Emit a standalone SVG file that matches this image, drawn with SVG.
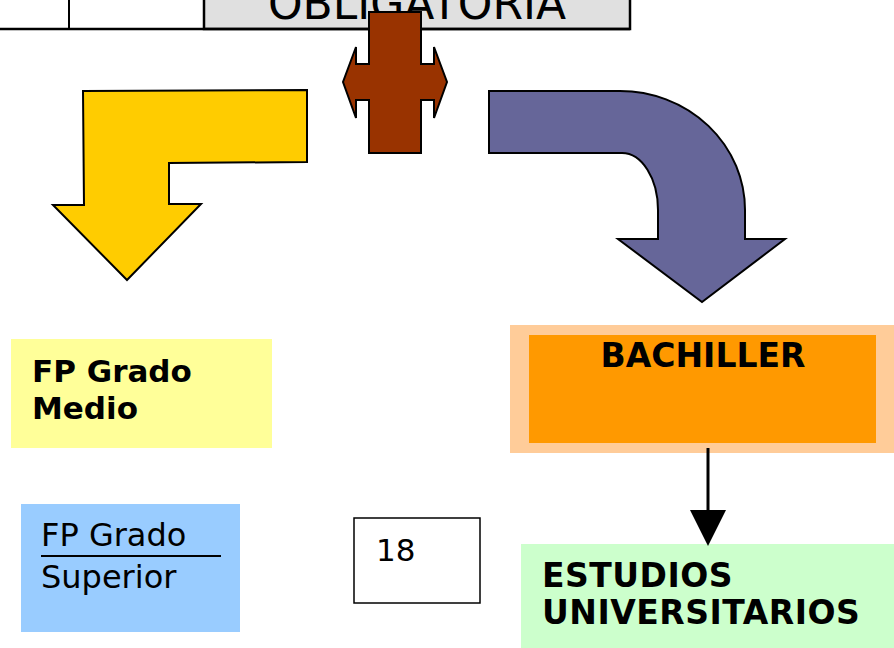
<svg xmlns="http://www.w3.org/2000/svg" width="894" height="648" viewBox="0 0 894 648">
<style>
.t{font-family:"DejaVu Sans","Liberation Sans",sans-serif;fill:#000}
.b{font-weight:bold}
.shape{stroke:#000;stroke-width:2;stroke-linejoin:miter}
</style>
<defs>
<marker id="ah" viewBox="0 0 36 36" refX="0" refY="18" markerWidth="36" markerHeight="36" markerUnits="userSpaceOnUse" orient="auto">
<path d="M0,0 L36,18 L0,36 Z" fill="#000"/>
</marker>
</defs>
<rect width="894" height="648" fill="#fff"/>
<g id="table">
<rect x="204" y="-5" width="426" height="34" fill="#e0e0e0" stroke="#000" stroke-width="2.5"/>
<line x1="0" y1="29" x2="630" y2="29" stroke="#000" stroke-width="2.5"/>
<line x1="69" y1="0" x2="69" y2="29" stroke="#000" stroke-width="2"/>
<line x1="204" y1="0" x2="204" y2="29" stroke="#000" stroke-width="2"/>
<text class="t" x="417" y="19" font-size="44" text-anchor="middle">OBLIGATORIA</text>
</g>
<g id="brown-cross">
<path class="shape" fill="#993300" d="M369,12 L421,12 L421,64 L434,64 L434,47 L447,82 L434,118 L434,100 L421,100 L421,153 L369,153 L369,100 L356,100 L356,118 L343,82 L356,47 L356,64 L369,64 Z"/>
</g>
<g id="yellow-arrow">
<path class="shape" fill="#ffcc00" d="M83,91 L307,90 L307,162 L169,163 L169,204 L201,204 L127,280 L53,205 L84,205 Z"/>
</g>
<g id="purple-arrow">
<path class="shape" fill="#666699" d="M489,91 L620,91 A125,119 0 0 1 745,210 L745,239 L785,239 L702,302 L618,239 L658,239 L658,210 A36,57 0 0 0 622,153 L489,153 Z"/>
</g>
<g id="fp-medio">
<rect x="11" y="339" width="261" height="109" fill="#ffff99"/>
<text class="t b" x="32" y="382" font-size="31">FP Grado</text>
<text class="t b" x="32" y="419" font-size="31">Medio</text>
</g>
<g id="fp-superior">
<rect x="21" y="504" width="219" height="128" fill="#99ccff"/>
<text class="t" x="41" y="546" font-size="32">FP Grado</text>
<line x1="41" y1="556" x2="221" y2="556" stroke="#000" stroke-width="2"/>
<text class="t" x="41" y="588" font-size="32">Superior</text>
</g>
<g id="age-18">
<rect x="354" y="518" width="126" height="85" fill="#fff" stroke="#000" stroke-width="1.5"/>
<text class="t" x="376" y="561" font-size="31">18</text>
</g>
<g id="bachiller">
<rect x="510" y="325" width="384" height="128" fill="#ffcc99"/>
<rect x="529" y="335" width="347" height="108" fill="#ff9900"/>
<text class="t b" x="703" y="367" font-size="33" text-anchor="middle">BACHILLER</text>
</g>
<g id="estudios">
<rect x="521" y="544" width="373" height="104" fill="#ccffcc"/>
<text class="t b" x="542" y="587" font-size="33" letter-spacing="0.5">ESTUDIOS</text>
<text class="t b" x="542" y="624" font-size="33" letter-spacing="0.5">UNIVERSITARIOS</text>
</g>
<g id="connectors">
<line x1="708" y1="448" x2="708" y2="510" stroke="#000" stroke-width="3" marker-end="url(#ah)"/>
</g>
</svg>
